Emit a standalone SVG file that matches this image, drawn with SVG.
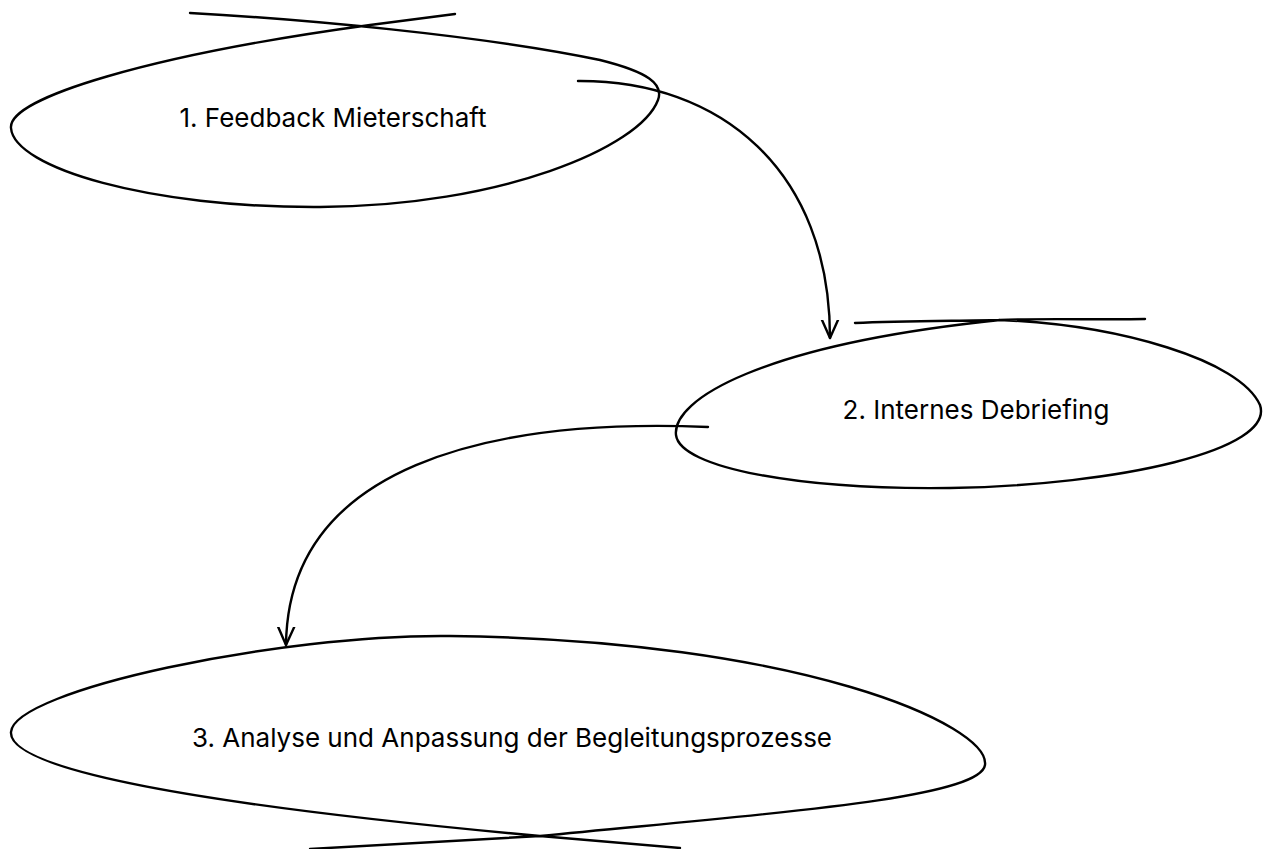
<svg xmlns="http://www.w3.org/2000/svg" width="1263" height="849" viewBox="0 0 1263 849">
<defs>
<style>
.shape{fill:none;stroke:#000;stroke-width:2.4;stroke-linecap:round;stroke-linejoin:round}
.edge{fill:none;stroke:#000;stroke-width:2.4;stroke-linecap:round}
.lbl{font-family:Inter,"Liberation Sans",sans-serif;font-size:26px;fill:#000;text-anchor:middle}
</style>
<marker id="arrow" viewBox="0 0 20 20" refX="18" refY="10" markerWidth="20" markerHeight="20" markerUnits="userSpaceOnUse" orient="auto">
<path d="M0,2 L18,10 L0,18" fill="none" stroke="#000" stroke-width="2.4" stroke-linecap="round" stroke-linejoin="round"/>
</marker>
</defs>
<rect width="1263" height="849" fill="#fff"/>
<g id="node1">
<path class="shape" d="M190,13 C 300,19 480,35 600,60 C 648,72 664,84 658,100 C 640,148 500,206 320,207 C 150,208 14,168 11,128 C 8,98 150,55 370,25 L 455,14"/>
<text class="lbl" x="333" y="127">1. Feedback Mieterschaft</text>
</g>
<g id="node2">
<path class="shape" d="M1145,319 C 1100,320 1040,318 1000,320 C 1120,325 1240,360 1260,405 C 1275,450 1120,485 950,488 C 800,490 680,468 676,435 C 672,400 760,345 1000,320 C 950,321 900,321 855,323"/>
<text class="lbl" x="976" y="419">2. Internes Debriefing</text>
</g>
<g id="node3">
<path class="shape" d="M310,849 L 540,836 C 750,815 980,800 985,765 C 990,725 800,640 450,636 C 280,634 14,690 11,732 C 8,770 200,805 540,836 L 680,848"/>
<text class="lbl" x="512" y="747">3. Analyse und Anpassung der Begleitungsprozesse</text>
</g>
<g id="connectors">
<path class="edge" marker-end="url(#arrow)" d="M578,81 C 720,80 830,170 830,338"/>
<path class="edge" marker-end="url(#arrow)" d="M708,427 C 490,418 288,465 286,645"/>
</g>
</svg>
